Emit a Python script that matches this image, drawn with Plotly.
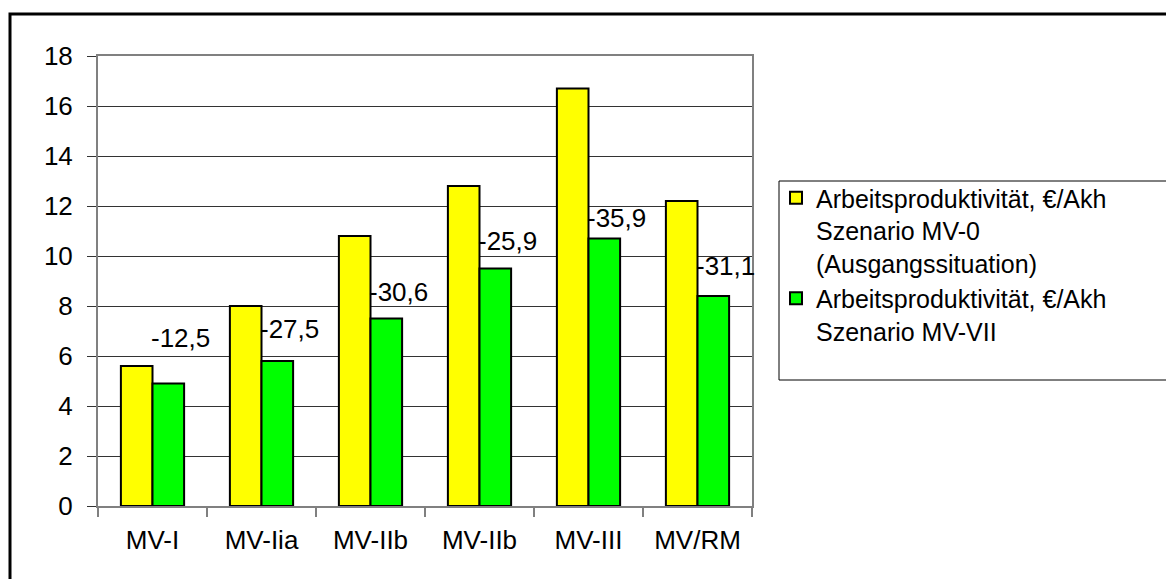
import plotly.graph_objects as go

# Categories and values (Arbeitsproduktivität in €/Akh)
categories = ["MV-I", "MV-Iia", "MV-IIb", "MV-IIb", "MV-III", "MV/RM"]
mv0_values = [5.6, 8.0, 10.8, 12.8, 16.7, 12.2]
mv7_values = [4.9, 5.8, 7.5, 9.5, 10.7, 8.4]
change_labels = ["-12,5", "-27,5", "-30,6", "-25,9", "-35,9", "-31,1"]
y_ticks = [0, 2, 4, 6, 8, 10, 12, 14, 16, 18]

# vertical pixel offsets of the change labels above the green bars
label_offsets = [46, 32, 27, 28, 21, 30]

FONT = "Liberation Sans, Arial, sans-serif"
FS = 26
xs = list(range(len(categories)))

fig = go.Figure()
fig.add_trace(go.Bar(
    x=xs, y=mv0_values,
    name="Arbeitsproduktivität, €/Akh<br>Szenario MV-0<br>(Ausgangssituation)",
    marker=dict(color="#FFFF00", line=dict(color="#000000", width=2)),
))
fig.add_trace(go.Bar(
    x=xs, y=mv7_values,
    name="Arbeitsproduktivität, €/Akh<br>Szenario MV-VII",
    marker=dict(color="#00FF00", line=dict(color="#000000", width=2)),
))

for i, (lbl, v, off) in enumerate(zip(change_labels, mv7_values, label_offsets)):
    fig.add_annotation(
        x=i, y=v, xref="x", yref="y", text=lbl, showarrow=False,
        xanchor="left", yanchor="middle", xshift=-4, yshift=off,
        font=dict(family=FONT, size=FS, color="#000000"),
    )

W, H = 1166, 579
L, R, T, B = 98, 752, 56, 506


def px(xp):
    return (xp - L) / (R - L)


def py(yp):
    return (B - yp) / (B - T)


# outer frame
fig.add_shape(type="rect", xref="paper", yref="paper",
              x0=px(10), x1=px(1180), y0=py(600), y1=py(14),
              line=dict(color="#000000", width=3), layer="below")
# legend box
fig.add_shape(type="rect", xref="paper", yref="paper",
              x0=px(779), x1=px(1180), y0=py(380), y1=py(181),
              line=dict(color="#000000", width=1))

fig.update_layout(
    width=W, height=H,
    margin=dict(l=L, r=W - R, t=T, b=H - B, pad=0),
    paper_bgcolor="white", plot_bgcolor="white",
    barmode="group", bargap=0.42, bargroupgap=0,
    font=dict(family=FONT, size=FS, color="#000000"),
    showlegend=True,
    legend=dict(
        x=px(776), y=py(175), xanchor="left", yanchor="top",
        bgcolor="rgba(0,0,0,0)", borderwidth=0,
        font=dict(family=FONT, size=25, color="#000000"),
        valign="top", tracegroupgap=12,
    ),
    xaxis=dict(
        range=[-0.5, len(categories) - 0.5],
        tickmode="array", tickvals=xs, ticktext=categories,
        ticks="", showgrid=False, zeroline=False,
        showline=True, linecolor="#808080", linewidth=2, mirror=True,
        ticklabelstandoff=10,
        minor=dict(tick0=-0.5, dtick=1, ticks="outside", ticklen=9,
                   tickcolor="#808080", tickwidth=2, showgrid=False),
        tickfont=dict(family=FONT, size=FS, color="#000000"),
    ),
    yaxis=dict(
        range=[0, 18], tickmode="array", tickvals=y_ticks,
        ticks="outside", ticklen=9, tickcolor="#333333", tickwidth=1,
        showgrid=True, gridcolor="#333333", gridwidth=1, zeroline=False,
        showline=True, linecolor="#808080", linewidth=2, mirror=True,
        ticklabelstandoff=9,
        tickfont=dict(family=FONT, size=FS, color="#000000"),
    ),
)

fig.write_html("out.html")
